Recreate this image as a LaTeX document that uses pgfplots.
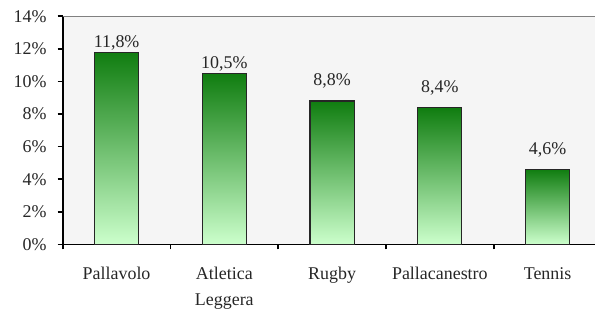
\documentclass[border=0pt]{standalone}
\usepackage{pgfplots}
\pgfplotsset{compat=1.18}
\usepackage{fontspec}
\setmainfont{Liberation Serif}
\definecolor{bartop}{RGB}{16,125,16}
\definecolor{barmid}{RGB}{95,170,95}
\definecolor{barbot}{RGB}{204,255,204}
\definecolor{plotbg}{RGB}{245,245,245}
\tikzset{mybar/.style={draw=black!85, line width=1.1bp, top color=bartop, middle color=barmid, bottom color=barbot}}
\begin{document}
\fontsize{18}{26}\selectfont
\begin{tikzpicture}
\path[use as bounding box] (-62.7bp,-68.7bp) rectangle (532.3bp,244.3bp);
\begin{axis}[
  at={(0,0)}, anchor=south west,
  scale only axis, width=532.3bp, height=228bp,
  xmin=-0.5, xmax=4.44, ymin=0, ymax=14,
  axis background/.style={fill=plotbg},
  separate axis lines,
  axis x line*=bottom, axis y line*=left,
  axis line style={black, line width=1.6bp, -},
  xtick={0,1,2,3,4},
  xticklabels={Pallavolo,{Atletica\\Leggera},Rugby,Pallacanestro,Tennis},
  major x tick style={draw=none},
  minor xtick={-0.5,0.5,1.5,2.5,3.5},
  minor x tick style={black, line width=1.6bp},
  ytick={0,2,4,6,8,10,12,14},
  yticklabel={\pgfmathprintnumber{\tick}\%},
  y tick style={black, line width=1.6bp},
  tick align=outside,
  major tick length=5bp, minor tick length=5bp,
  /pgf/number format/assume math mode=true,
  tick label style={font=\fontsize{18}{26}\selectfont, text=black!85},
  xticklabel style={align=center, yshift=-12bp},
  yticklabel style={xshift=-5bp},
  ybar, bar width=0.41, bar shift=0pt,
  point meta=y,
  nodes near coords={\pgfmathprintnumber[fixed,fixed zerofill,precision=1,use comma]{\pgfplotspointmeta}\%},
  nodes near coords style={font=\fontsize{18}{26}\selectfont, text=black!85, inner sep=1bp, anchor=south},
  clip=false,
]
\addplot[mybar] coordinates {(0,11.8)};
\addplot[mybar] coordinates {(1,10.5)};
\addplot[mybar, nodes near coords style={yshift=11bp}] coordinates {(2,8.8)};
\addplot[mybar, nodes near coords style={yshift=11bp}] coordinates {(3,8.4)};
\addplot[mybar, nodes near coords style={yshift=11bp}] coordinates {(4,4.6)};
\draw[gray, line width=1bp] (rel axis cs:0,1) -- (rel axis cs:1,1);
\end{axis}
\end{tikzpicture}
\end{document}
